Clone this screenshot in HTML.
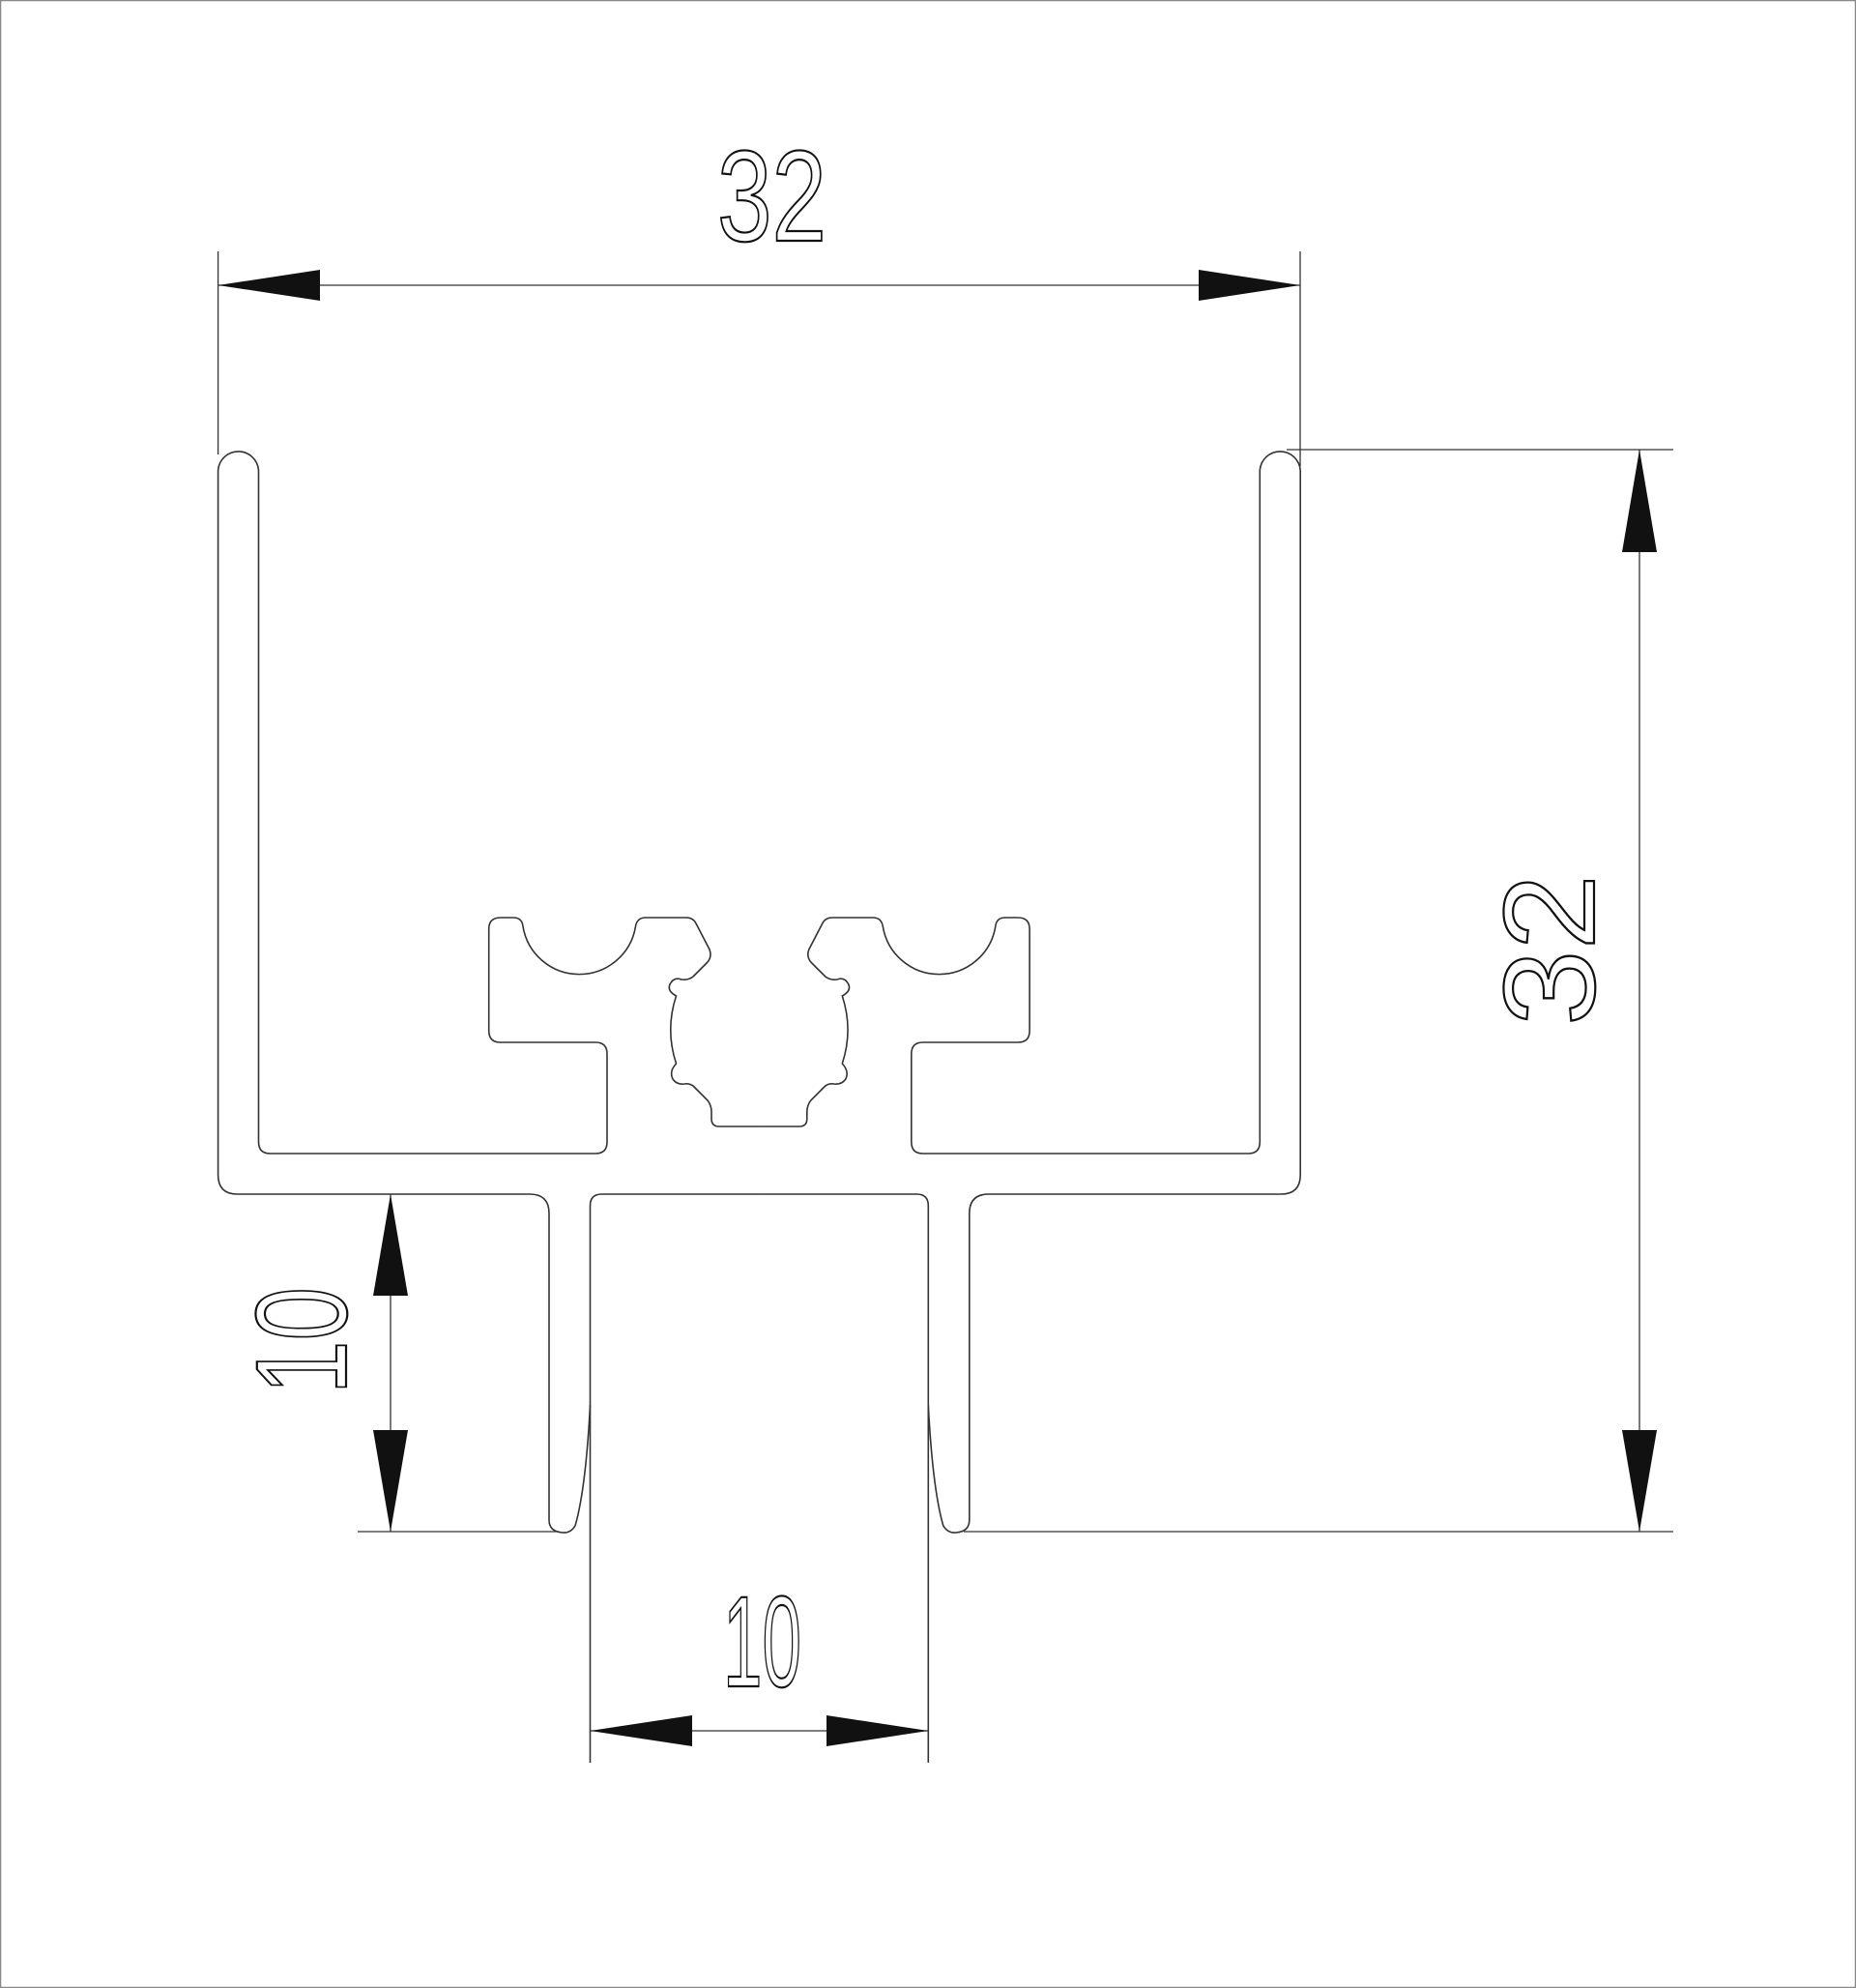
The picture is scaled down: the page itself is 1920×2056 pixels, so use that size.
<!DOCTYPE html>
<html><head><meta charset="utf-8"><style>html,body{margin:0;padding:0;background:#fff}svg{display:block}</style></head>
<body>
<svg width="1920" height="2056" viewBox="0 0 1920 2056" xmlns="http://www.w3.org/2000/svg">
<rect x="0.5" y="0.5" width="1919" height="2055" fill="#fff" stroke="#888" stroke-width="1.5"/>
<g fill="none" stroke="#333" stroke-width="1.6">
<g id="half">
<path d="M785.4 1235 L622.5 1235 Q610.5 1235 610.5 1247 L610.5 1823"/>
<path d="M610.5 1453 Q606 1540 595 1578 Q590 1586 582 1585 Q568 1584 568 1572 L568 1255 Q568 1235 548 1235 L245.6 1235 Q225.6 1235 225.6 1215 L225.6 486.5 A21 21 0 0 1 267.5 486.5 L267.5 1181 Q267.5 1193 279.5 1193 L616 1193 Q628 1193 628 1181 L628 1090 Q628 1078 616 1078 L517.7 1078 Q505.7 1078 505.7 1066 L505.7 961 Q505.7 949 517.7 949 L531 949 Q540 949 541 958 A59 59 0 0 0 657.5 958 Q659 949 668 949 L710 949 Q717 949 720 955 L734 982 Q737 990 731 996 L717 1010 Q712 1014 705 1013 Q697 1010 693 1018 Q690 1025 699.5 1030 Q688 1065 699.5 1100 Q692 1108 696 1116 Q700 1122 708 1121 Q714 1120 718 1124 L732 1138 Q736 1143 736 1150 L736 1157 Q736 1165 744 1165 L785.4 1165"/>
</g>
<use href="#half" transform="matrix(-1 0 0 1 1570.8 0)"/>
</g>
<g stroke="#333" stroke-width="1.3" fill="none">
<line x1="225.6" y1="260" x2="225.6" y2="470"/>
<line x1="1345" y1="260" x2="1345" y2="482"/>
<line x1="225.6" y1="295" x2="1345" y2="295"/>
<line x1="1331" y1="465" x2="1731" y2="465"/>
<line x1="997" y1="1584" x2="1731" y2="1584"/>
<line x1="1696" y1="465" x2="1696" y2="1584"/>
<line x1="370" y1="1584" x2="577" y2="1584"/>
<line x1="404" y1="1235" x2="404" y2="1584"/>
<line x1="610.5" y1="1790" x2="960.3" y2="1790"/>
</g>
<g fill="#111">
<polygon points="225.6,295 331,279 331,311"/>
<polygon points="1345,295 1240,279 1240,311"/>
<polygon points="1696,465 1678,571 1714,571"/>
<polygon points="1696,1584 1678,1479 1714,1479"/>
<polygon points="404,1235 386,1340 422,1340"/>
<polygon points="404,1584 386,1479 422,1479"/>
<polygon points="610.5,1790 716,1774 716,1806"/>
<polygon points="960.3,1790 855,1774 855,1806"/>
</g>
<g font-family="Liberation Sans, sans-serif" fill="none" stroke="#111" stroke-width="2.2" font-size="134">
<text x="742" y="249" textLength="113" lengthAdjust="spacingAndGlyphs">32</text>
<text transform="translate(1601,983) rotate(-90)" x="-78" y="48" textLength="157" lengthAdjust="spacingAndGlyphs">32</text>
<text transform="translate(310,1386) rotate(-90)" x="-56" y="48" textLength="111" lengthAdjust="spacingAndGlyphs">10</text>
<text x="748" y="1744" textLength="81" lengthAdjust="spacingAndGlyphs">10</text>
</g>
</svg>
</body></html>
